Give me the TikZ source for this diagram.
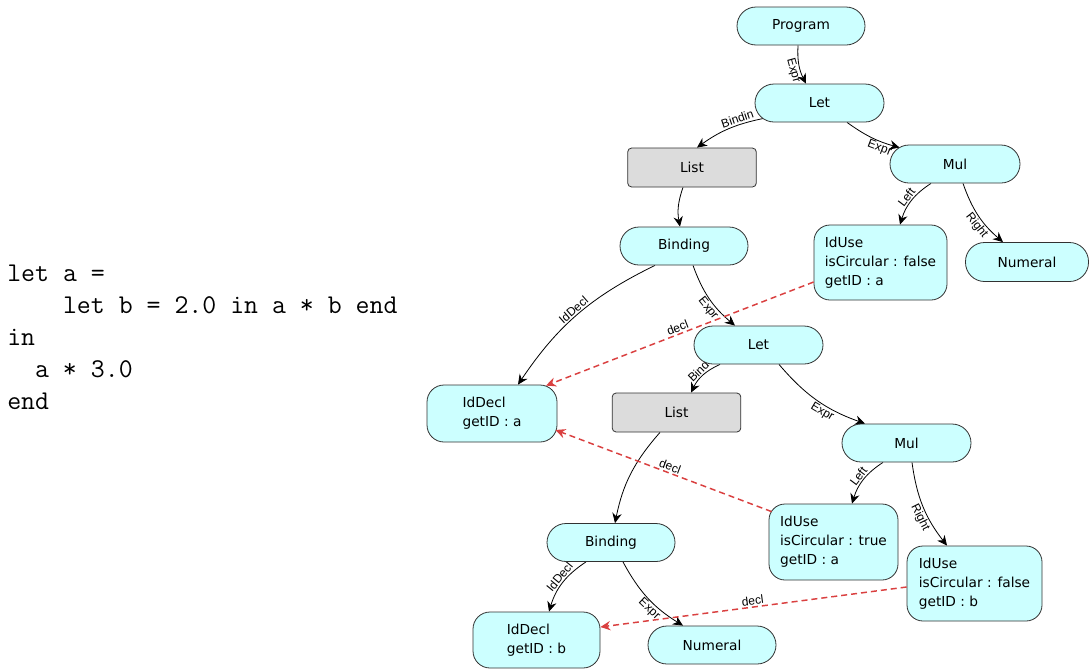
\documentclass[tikz,border=0pt]{standalone}
\usepackage{fontspec}
\newfontfamily\nodefam{DejaVu Sans}
\newfontfamily\lblfam{Liberation Sans}
\usetikzlibrary{arrows.meta,calc}
\definecolor{cy}{RGB}{204,255,255}
\definecolor{gr}{RGB}{220,220,220}
\definecolor{bd}{RGB}{50,50,50}
\definecolor{rd}{RGB}{218,64,64}
\pgfdeclarelayer{bg}\pgfsetlayers{bg,main}
\begin{document}
\begin{tikzpicture}[x=0.75pt,y=-0.75pt,
  nd/.style={draw=bd, line width=0.6pt, fill=cy, inner sep=0pt, font=\nodefam\fontsize{10.3}{14.25}\selectfont, align=left},
  pill/.style={nd, rounded corners=14.25pt, minimum height=28.5pt, minimum width=96pt},
  lst/.style={nd, fill=gr, rounded corners=3pt, minimum height=29.25pt, minimum width=96.5pt},
  rbox/.style={nd, rounded corners=12pt},
  ch/.style={draw=black, line width=0.6pt, -{Stealth[length=7.5pt,width=7pt,inset=2.5pt]}},
  dref/.style={draw=rd, line width=1.1pt, dash pattern=on 4.5pt off 3pt, -{Stealth[length=7.5pt,width=7pt,inset=2.5pt]}},
  lb/.style={font=\lblfam\fontsize{9}{9}\selectfont, inner sep=1pt, sloped},
]
\useasboundingbox (0,0) rectangle (1089,668);

% code
\node[anchor=north west, inner sep=0pt, align=left, font=\ttfamily\fontsize{20.3}{24}\selectfont] (code) at (7,265)
  {let a =\\\phantom{xxxx}let b = 2.0 in a * b end\\in\\\phantom{xx}a * 3.0\\end};

% nodes
\node[pill] (Prog) at (801,26) {Program};
\node[pill, minimum width=96.75pt] (Let1) at (819.5,103) {Let};
\node[lst] (List1) at (692,167.5) {List};
\node[pill, minimum width=97.5pt] (Mul1) at (955,164) {Mul};
\node[pill] (Bind1) at (684,246) {Binding};
\node[rbox, minimum width=99.75pt, minimum height=56.25pt] (Use1) at (880.5,262.5) {IdUse\\isCircular : false\\getID : a};
\node[pill, minimum width=92.25pt, minimum height=29.25pt] (Num1) at (1027,262) {Numeral};
\node[rbox, rounded corners=12.75pt, minimum width=97.5pt, minimum height=42.75pt] (DeclA) at (492,413.5) {IdDecl\\getID : a};
\node[pill, minimum width=96.75pt] (Let2) at (758.5,345) {Let};
\node[lst] (List2) at (676.5,412.5) {List};
\node[pill, minimum width=96.75pt] (Mul2) at (906.5,443) {Mul};
\node[rbox, minimum width=96.75pt, minimum height=57pt] (UseT) at (833.5,542) {IdUse\\isCircular : true\\getID : a};
\node[rbox, minimum width=101.25pt, minimum height=56.25pt] (UseB) at (974.5,583.5) {IdUse\\isCircular : false\\getID : b};
\node[pill] (Bind2) at (611,542.5) {Binding};
\node[rbox, rounded corners=12.75pt, minimum width=95.25pt, minimum height=42pt] (DeclB) at (536.5,640) {IdDecl\\getID : b};
\node[pill] (Num2) at (712,645) {Numeral};

\begin{pgfonlayer}{bg}
\fill[white] (0,0) rectangle (1089,668);
\draw[ch] ($(Prog.south)+(-3,0)$) to[bend right=15] node[lb,below,pos=0.6]{Expr} ($(Let1.north)+(-13.5,0)$);
\draw[ch] ($(Let1.south west)+(9,-4)$) to[bend right=12] node[lb,above,pos=0.33]{Bindin} ($(List1.north)+(5,0)$);
\draw[ch] ($(Let1.south)+(27.5,0)$) to[bend right=10] node[lb,below,pos=0.7]{Expr} ($(Mul1.north west)+(10,3)$);
\draw[ch] ($(List1.south)+(-9,0)$) to[bend right=15] ($(Bind1.north)+(-4,0)$);
\draw[ch] ($(Mul1.south)+(-24,0)$) to[bend right=20] node[lb,above,pos=0.5]{Left} ($(Use1.north)+(19.5,0)$);
\draw[ch] ($(Mul1.south)+(8,0)$) to[bend right=15] node[lb,below,pos=0.6]{Right} ($(Num1.north)+(-24,0)$);
\draw[ch] ($(Bind1.south)+(-29,0)$) to[bend right=15] node[lb,above,pos=0.5]{IdDecl} ($(DeclA.north)+(26,0)$);
\draw[ch] ($(Bind1.south)+(9,0)$) to[bend right=15] node[lb,below,pos=0.6]{Expr} ($(Let2.north)+(-23.5,0)$);
\draw[ch] ($(Let2.south)+(-38.5,0)$) to[bend right=20] node[lb,above,pos=0.5]{Bind} ($(List2.north)+(14.5,0)$);
\draw[ch] ($(Let2.south)+(20.5,0)$) to[bend right=15] node[lb,below,pos=0.6]{Expr} ($(Mul2.north)+(-41.5,0)$);
\draw[ch] ($(List2.south)+(-16.5,0)$) to[bend right=15] ($(Bind2.north)+(4,0)$);
\draw[ch] ($(Mul2.south)+(-23.5,0)$) to[bend right=20] node[lb,above,pos=0.5]{Left} ($(UseT.north)+(18.5,0)$);
\draw[ch] ($(Mul2.south)+(5.5,0)$) to[bend right=15] node[lb,below,pos=0.6]{Right} ($(UseB.north)+(-27.5,0)$);
\draw[ch] ($(Bind2.south)+(-25,0)$) to[bend right=20] node[lb,above,pos=0.45]{IdDecl} ($(DeclB.north)+(12.5,0)$);
\draw[ch] ($(Bind2.south)+(12,0)$) to[bend right=15] node[lb,below,pos=0.6]{Expr} ($(Num2.north)+(-29,0)$);
\end{pgfonlayer}

\draw[dref] ($(Use1.west)+(0,19.5)$) -- node[lb,above,pos=0.5]{decl} ($(DeclA.north)+(54,1)$);
\draw[dref] ($(UseT.north west)+(3,8)$) -- node[lb,above,pos=0.48]{decl} ($(DeclA.east)+(-2,16.5)$);
\draw[dref] ($(UseB.west)+(0,3.5)$) -- node[lb,above,pos=0.5]{decl} ($(DeclB.east)+(0,-13)$);
\end{tikzpicture}
\end{document}
